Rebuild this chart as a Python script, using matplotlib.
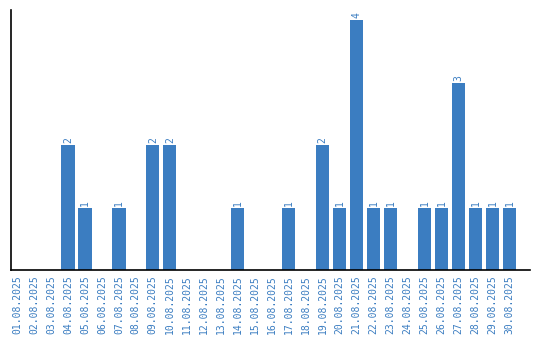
import matplotlib
matplotlib.use("Agg")
import matplotlib.pyplot as plt

dates = [f"{d:02d}.08.2025" for d in range(1, 31)]
values = [0, 0, 0, 2, 1, 0, 1, 0, 2, 2, 0, 0, 0, 1, 0, 0, 1, 0, 2, 1, 4, 1, 1, 0, 1, 1, 3, 1, 1, 1]

color = "#3b7dc1"
fig = plt.figure(figsize=(5.4, 3.4), dpi=100)
ax = fig.add_axes([11/540, 70/340, 519/540, 260/340])
x = list(range(len(dates)))
ax.bar(x, values, width=0.78, color=color)
for xi, v in zip(x, values):
    if v > 0:
        ax.text(xi, v + 0.03, str(v), rotation=90, ha="center", va="bottom",
                color=color, fontsize=7, family="DejaVu Sans Mono")
ax.set_xlim(-0.35, 30.2)
ax.set_ylim(0, 4.16)
ax.set_xticks(x)
ax.set_xticklabels(dates, rotation=90, color=color, fontsize=7, family="DejaVu Sans Mono")
ax.tick_params(axis="x", length=0, pad=4)
ax.set_yticks([])
for s in ["top", "right"]:
    ax.spines[s].set_visible(False)
for s in ["left", "bottom"]:
    ax.spines[s].set_linewidth(1.2)
fig.savefig("out.png", dpi=100)
